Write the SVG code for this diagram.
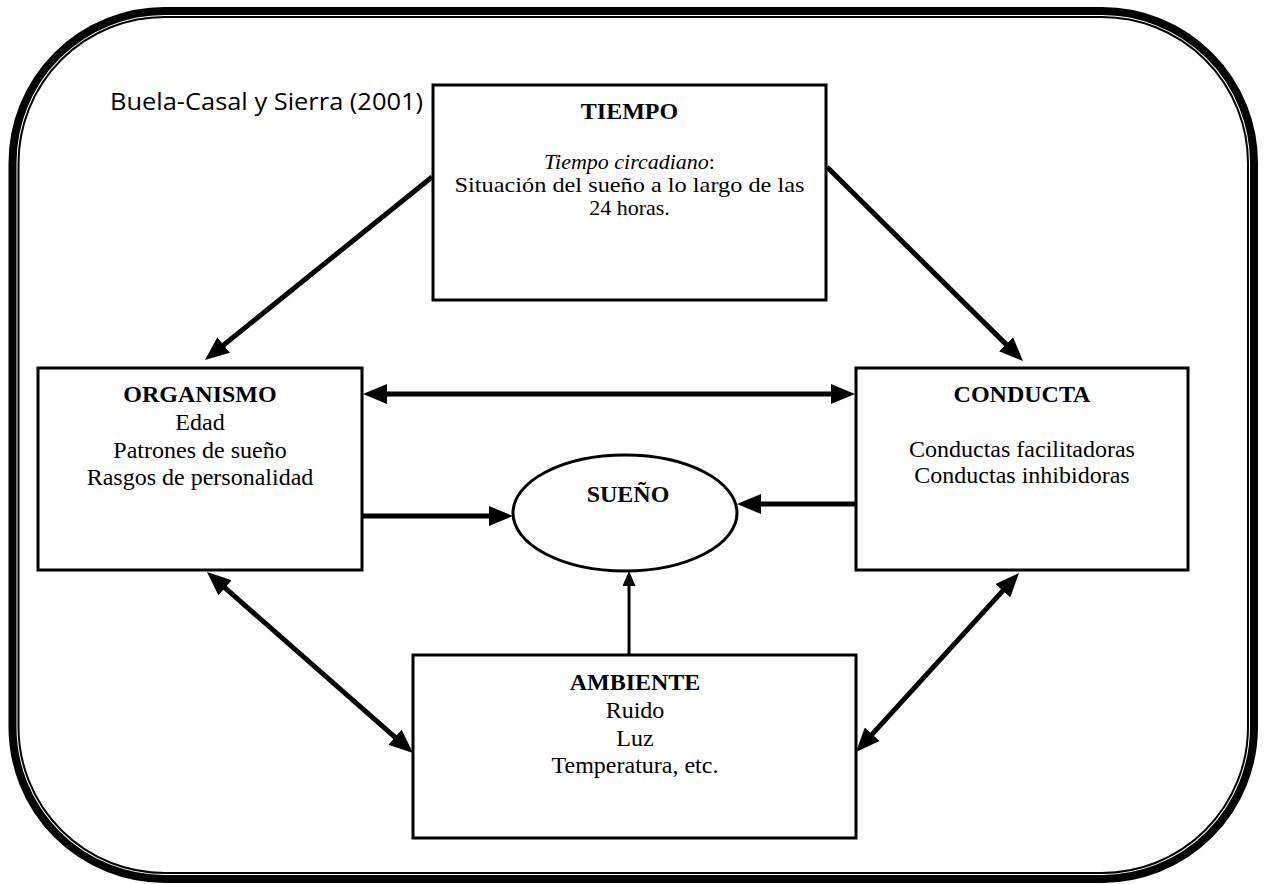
<svg xmlns="http://www.w3.org/2000/svg" width="1267" height="884" viewBox="0 0 1267 884">
  <style>
    .frame-outer { fill: none; stroke: #000; stroke-width: 8; }
    .frame-inner { fill: none; stroke: #000; stroke-width: 2; }
    .box { fill: #fff; stroke: #000; stroke-width: 3; }
    .t { font-family: "Liberation Serif", "Times New Roman", serif; font-size: 24px; fill: #000; text-anchor: middle; }
    .s { font-size: 22px; }
    .b { font-weight: bold; }
    .i { font-style: italic; }
    .cite { font-family: "Open Sans", "Liberation Sans", sans-serif; font-size: 23px; fill: #000; }
    .arrow { fill: none; stroke: #000; stroke-width: 5; }
    .arrow-thin { fill: none; stroke: #000; stroke-width: 3; }
  </style>
  <defs>
    <marker id="head" viewBox="0 0 24 20" markerWidth="24" markerHeight="20" markerUnits="userSpaceOnUse" refX="12" refY="10" orient="auto-start-reverse">
      <path d="M0,0 L24,10 L0,20 z" fill="#000"/>
    </marker>
    <marker id="head-small" viewBox="0 0 15 13" markerWidth="15" markerHeight="13" markerUnits="userSpaceOnUse" refX="7" refY="6.5" orient="auto">
      <path d="M0,0 L15,6.5 L0,13 z" fill="#000"/>
    </marker>
  </defs>

  <rect width="1267" height="884" fill="#fff"/>

  <!-- double-line rounded frame: thick outside, thin inside -->
  <g id="frame">
    <rect class="frame-outer" x="12.5" y="11" width="1241.5" height="868" rx="152" ry="152"/>
    <rect class="frame-inner" x="18.5" y="17" width="1229.5" height="856" rx="146" ry="146"/>
  </g>

  <text id="cite" class="cite" x="110" y="110" textLength="313" lengthAdjust="spacingAndGlyphs">Buela-Casal y Sierra (2001)</text>

  <g id="connectors">
    <!-- TIEMPO to ORGANISMO / CONDUCTA -->
    <line class="arrow" x1="432" y1="177" x2="214.3" y2="352.5" marker-end="url(#head)"/>
    <line class="arrow" x1="827" y1="167" x2="1014.5" y2="352.6" marker-end="url(#head)"/>
    <!-- ORGANISMO <-> CONDUCTA -->
    <line class="arrow" x1="375" y1="394" x2="843" y2="394" marker-start="url(#head)" marker-end="url(#head)"/>
    <!-- into SUEÑO -->
    <line class="arrow" x1="362" y1="516" x2="501" y2="516" marker-end="url(#head)"/>
    <line class="arrow" x1="856" y1="504" x2="749" y2="504" marker-end="url(#head)"/>
    <line class="arrow-thin" x1="629" y1="655" x2="629" y2="579" marker-end="url(#head-small)"/>
    <!-- AMBIENTE <-> ORGANISMO / CONDUCTA -->
    <line class="arrow" x1="216" y1="579.9" x2="404" y2="745.1" marker-start="url(#head)" marker-end="url(#head)"/>
    <line class="arrow" x1="1010.9" y1="581.9" x2="864.1" y2="743.1" marker-start="url(#head)" marker-end="url(#head)"/>
  </g>

  <g id="tiempo">
    <rect class="box" x="433" y="85" width="393" height="215"/>
    <text class="t b" x="629.5" y="119">TIEMPO</text>
    <text class="t s" x="629.5" y="169"><tspan class="i">Tiempo circadiano</tspan>:</text>
    <text class="t s" x="629.5" y="192" textLength="350" lengthAdjust="spacingAndGlyphs">Situación del sueño a lo largo de las</text>
    <text class="t s" x="629.5" y="215">24 horas.</text>
  </g>

  <g id="organismo">
    <rect class="box" x="38" y="368" width="324" height="202"/>
    <text class="t b" x="200" y="402">ORGANISMO</text>
    <text class="t" x="200" y="430">Edad</text>
    <text class="t" x="200" y="458">Patrones de sueño</text>
    <text class="t" x="200" y="485">Rasgos de personalidad</text>
  </g>

  <g id="conducta">
    <rect class="box" x="856" y="368" width="332" height="202"/>
    <text class="t b" x="1022" y="402">CONDUCTA</text>
    <text class="t" x="1022" y="457">Conductas facilitadoras</text>
    <text class="t" x="1022" y="483">Conductas inhibidoras</text>
  </g>

  <g id="sueno">
    <ellipse class="box" cx="625" cy="513" rx="112" ry="58"/>
    <text class="t b" x="628" y="502">SUEÑO</text>
  </g>

  <g id="ambiente">
    <rect class="box" x="413" y="655" width="443" height="183"/>
    <text class="t b" x="635" y="690">AMBIENTE</text>
    <text class="t" x="635" y="718">Ruido</text>
    <text class="t" x="635" y="746">Luz</text>
    <text class="t" x="635" y="773">Temperatura, etc.</text>
  </g>
</svg>
